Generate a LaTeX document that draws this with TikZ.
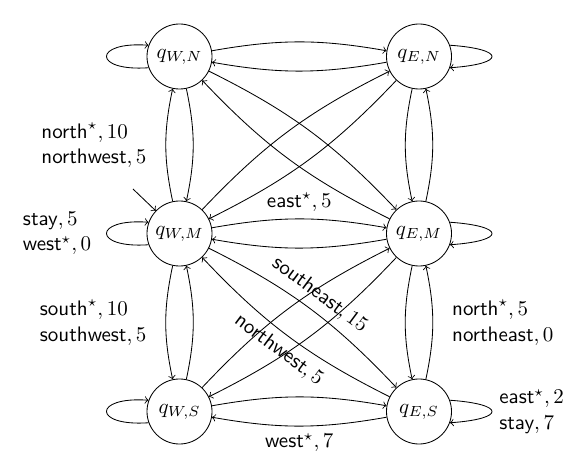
\documentclass[tikz,border=0pt]{standalone}
\usepackage{amsmath}
\begin{document}
\begin{tikzpicture}[x=0.476pt,y=0.476pt,
  qstate/.style={circle,draw,minimum size=30.95pt,inner sep=0pt},
  act/.style={align=left,inner sep=3.33pt}]
  \def\xW{179.5}
  \def\xE{419}
  \def\yN{410.5}
  \def\yM{233.5}
  \def\yS{55.5}
  \def\lp{26.7pt}
  \useasboundingbox (0,0) rectangle (574,467);

%states:
  \node[qstate] (WN) at (\xW,\yN) {$q_{W,N}$};
  \node[qstate] (EN) at (\xE,\yN) {$q_{E,N}$};
  \node[qstate] (WM) at (\xW,\yM) {$q_{W,M}$};
  \node[qstate] (EM) at (\xE,\yM) {$q_{E,M}$};
  \node[qstate] (WS) at (\xW,\yS) {$q_{W,S}$};
  \node[qstate] (ES) at (\xE,\yS) {$q_{E,S}$};

  \coordinate (init) at (133,278);
  \draw[->] (init) -- (WM);

%loops:
  \draw[->] (WN.200) to[out=184,in=176,distance=\lp] (WN.160);
  \draw[->] (EN.20) to[out=-4,in=4,distance=\lp] (EN.-20);
  \draw[->] (WM.200) to[out=184,in=176,distance=\lp] node[act,left,xshift=-3.8pt] {$\textsf{stay}, 5$\\$\textsf{west}^\star, 0$} (WM.160);
  \draw[->] (EM.20) to[out=-4,in=4,distance=\lp] (EM.-20);
  \draw[->] (WS.200) to[out=184,in=176,distance=\lp] (WS.160);
  \draw[->] (ES.20) to[out=-4,in=4,distance=\lp] node[act,right] {$\textsf{east}^\star, 2$\\$\textsf{stay}, 7$} (ES.-20);

%columns:
  \draw[->] (WM) to[bend left=12] node[act,left,xshift=-5.7pt] {$\textsf{north}^\star, 10$\\$\textsf{northwest}, 5$} (WN);
  \draw[->] (WN) to[bend left=12] (WM);
  \draw[->] (EM) to[bend right=12] (EN);
  \draw[->] (EN) to[bend right=12] (EM);
  \draw[->] (WM) to[bend right=12] node[act,left,xshift=-5.7pt] {$\textsf{south}^\star, 10$\\$\textsf{southwest}, 5$} (WS);
  \draw[->] (WS) to[bend right=12] (WM);
  \draw[->] (ES) to[bend right=12] node[act,right,xshift=5.7pt] {$\textsf{north}^\star, 5$\\$\textsf{northeast}, 0$} (EM);
  \draw[->] (EM) to[bend right=12] (ES);

%rows:
  \draw[->] (WN) to[bend left=10] (EN);
  \draw[->] (EN) to[bend left=10] (WN);
  \draw[->] (WM) to[bend left=10] node[act,above] {$\textsf{east}^\star, 5$} (EM);
  \draw[->] (EM) to[bend left=10] (WM);
  \draw[->] (WS) to[bend left=10] (ES);
  \draw[->] (ES) to[bend left=10] node[act,below] {$\textsf{west}^\star, 7$} (WS);

%diagonals:
  \draw[->] (WN) to[bend left=10] (EM);
  \draw[->] (EM) to[bend left=10] (WN);
  \draw[->] (WM) to[bend left=10] (EN);
  \draw[->] (EN) to[bend left=10] (WM);
  \draw[->] (WM) to[bend left=10] node[act,above,sloped] {$\textsf{southeast}, 15$} (ES);
  \draw[->] (ES) to[bend left=10] node[act,below,sloped] {$\textsf{northwest}, 5$} (WM);
  \draw[->] (WS) to[bend left=10] (EM);
  \draw[->] (EM) to[bend left=10] (WS);
\end{tikzpicture}
\end{document}
